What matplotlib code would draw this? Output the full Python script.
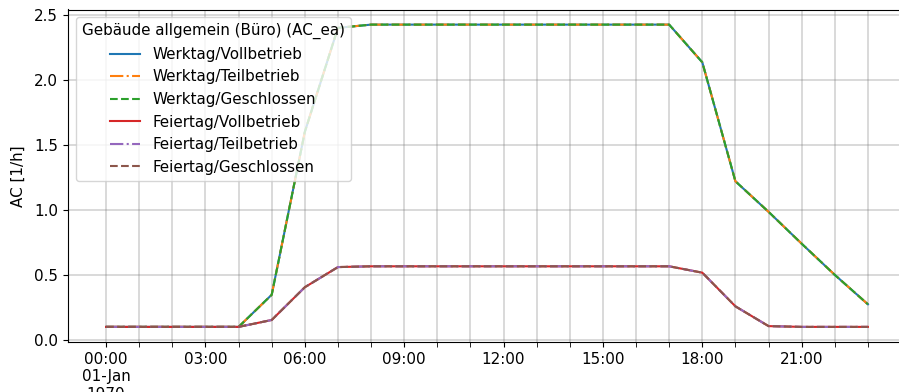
import matplotlib
matplotlib.use("Agg")
import matplotlib.pyplot as plt
import matplotlib.dates as mdates
from matplotlib.ticker import FuncFormatter, FixedLocator
import pandas as pd

hours = pd.date_range("1970-01-01 00:00", periods=24, freq="h")

werktag = [0.1, 0.1, 0.1, 0.1, 0.1, 0.347, 1.6, 2.40, 2.425, 2.425, 2.425, 2.425,
           2.425, 2.425, 2.425, 2.425, 2.425, 2.425, 2.135, 1.22, 0.985, 0.74, 0.5, 0.274]
feiertag = [0.1, 0.1, 0.1, 0.1, 0.1, 0.153, 0.405, 0.56, 0.566, 0.566, 0.566, 0.566,
            0.566, 0.566, 0.566, 0.566, 0.566, 0.566, 0.517, 0.258, 0.106, 0.1, 0.1, 0.1]

series = [
    ("Werktag/Vollbetrieb", werktag, "C0", "-"),
    ("Werktag/Teilbetrieb", werktag, "C1", "-."),
    ("Werktag/Geschlossen", werktag, "C2", "--"),
    ("Feiertag/Vollbetrieb", feiertag, "C3", "-"),
    ("Feiertag/Teilbetrieb", feiertag, "C4", "-."),
    ("Feiertag/Geschlossen", feiertag, "C5", "--"),
]
legend_title = "Gebäude allgemein (Büro) (AC_ea)"
ylabel = "AC [1/h]"

plt.rcParams["font.size"] = 10.9

W, H = 899, 392
fig = plt.figure(figsize=(W / 100, H / 100), dpi=100)
ax = fig.add_axes([68 / W, (H - 342) / H, (906 - 68) / W, (342 - 9.5) / H])

for name, vals, col, ls in series:
    ax.plot(hours, vals, color=col, linestyle=ls, label=name, linewidth=1.5)

xnum = mdates.date2num(hours)
ax.xaxis.set_major_locator(FixedLocator(xnum[::3]))
ax.xaxis.set_minor_locator(FixedLocator(xnum))


def fmt(x, pos):
    d = mdates.num2date(x)
    if d.hour == 0:
        return d.strftime("%H:%M\n%d-%b\n%Y")
    return d.strftime("%H:%M")


ax.xaxis.set_major_formatter(FuncFormatter(fmt))
ax.xaxis.set_minor_formatter(FuncFormatter(lambda x, p: ""))
ax.tick_params(axis="x", which="minor", length=3.5)
ax.set_yticks([0.0, 0.5, 1.0, 1.5, 2.0, 2.5])
ax.set_ylabel(ylabel, labelpad=6)
ax.grid(which="both", color="gray", alpha=0.35, linewidth=1.2)
ax.legend(title=legend_title, loc="upper left")

fig.savefig("out.png", dpi=100)
